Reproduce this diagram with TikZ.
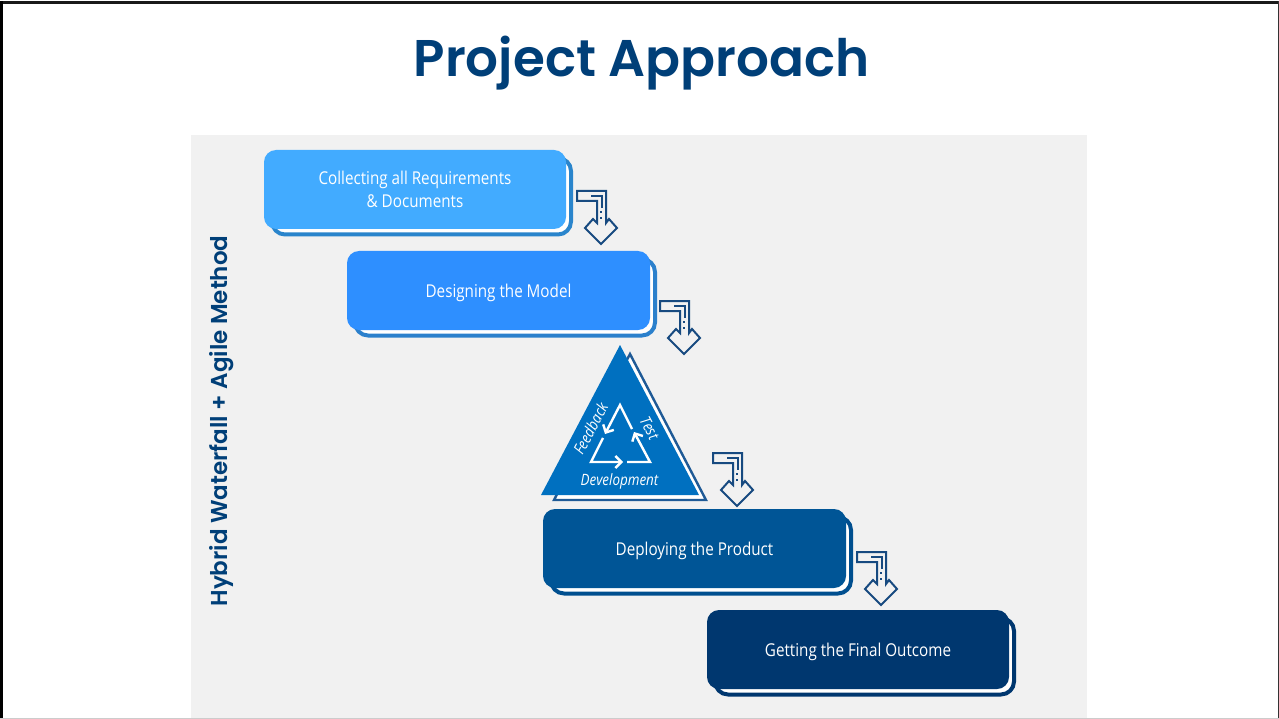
\documentclass[tikz,border=0pt]{standalone}
\usepackage{fontspec}
\setmainfont{Open Sans}[FakeStretch=0.86]
\newfontfamily\titlefont{Poppins SemiBold}
\usetikzlibrary{arrows.meta}
\definecolor{navy}{HTML}{003F78}
\definecolor{panel}{HTML}{F1F1F1}
\definecolor{iconblue}{HTML}{174A80}
\definecolor{bA}{HTML}{42ABFF}\definecolor{sA}{HTML}{2A85CC}
\definecolor{bB}{HTML}{2E8FFF}\definecolor{sB}{HTML}{2B80CC}
\definecolor{bC}{HTML}{005596}\definecolor{sC}{HTML}{004F8F}
\definecolor{bD}{HTML}{00376F}\definecolor{sD}{HTML}{00376F}
\definecolor{tri}{HTML}{0070C0}\definecolor{triS}{HTML}{1F5A96}
\tikzset{
  x=1pt,y=-1pt,
  stepshadow/.style={draw=#1,line width=4pt,fill=white,rounded corners=13pt},
  stepfill/.style={fill=#1,rounded corners=12pt},
  steptext/.style={text=white,font=\fontsize{17.7}{23}\selectfont,align=center},
  tritext/.style={text=white,font=\fontsize{15.6}{16}\selectfont\itshape},
  cycle/.style={draw=white,line width=2.4pt,line join=miter},
  cyclearrow/.style={cycle,-{Straight Barb[length=6pt,width=12pt,line width=2.4pt]}},
  stepicon/.pic={
    \draw[iconblue,line width=2pt,fill=panel,line join=miter]
      (0,0)--(29,0)--(29,32)--(32,28)--(40,37)--(24,53)--(8,37)--(16,28)--(20,32)--(20,10)--(0,10)--cycle;
    \draw[iconblue,line width=1.7pt] (14,5)--(25,5)--(25,17);
    \draw[iconblue,line width=1.8pt] (24,20)--(24,22) (24,26)--(24,28);
  }
}
\newcommand{\stepbox}[8]{% name, x0,y0,x1,y1, colour suffix, text shift, text
  \draw[stepshadow=s#6] (#2+8,#3+8) rectangle (#4+5,#5+5.5);
  \fill[stepfill=b#6] (#2,#3) rectangle (#4,#5);
  \node[steptext] (#1) at ({(#2+#4)/2},{(#3+#5)/2+#7}) {#8};
}
\begin{document}
\begin{tikzpicture}
\useasboundingbox (0,0) rectangle (1279,719);
\fill[white] (0,0) rectangle (1279,719);
\fill[panel] (191,135) rectangle (1087,719);
% slide frame
\fill[black!90] (0,1) rectangle (1279,4);
\fill[black] (0,1) rectangle (3,719);
\fill[black!80] (1278,1) rectangle (1279,719);
\fill[black!20] (0,717.5) rectangle (1279,719);
\node[text=navy,font=\titlefont\fontsize{51.6}{60}\selectfont,inner sep=0pt] (title) at (641.5,63) {Project Approach};
\node[text=navy,font=\titlefont\fontsize{23}{26}\selectfont,rotate=90,inner sep=0pt] (side) at (222,421) {Hybrid Waterfall + Agile Method};
\stepbox{s1}{264}{150}{566}{229}{A}{0}{Collecting all Requirements\\\& Documents}
\stepbox{s2}{347}{251}{650}{330}{B}{2.5}{Designing the Model}
\stepbox{s4}{543}{509}{846}{588}{C}{2.5}{Deploying the Product}
\stepbox{s5}{707}{610}{1009}{689}{D}{2.5}{Getting the Final Outcome}
% agile triangle
\draw[triS,line width=2.4pt,fill=white,line join=miter] (630,354)--(706,500)--(554,500)--cycle;
\fill[tri] (620,345)--(699,495)--(541,495)--cycle;
\draw[cyclearrow] (632,429)--(620,405)--(605,434);
\draw[cyclearrow] (603,438)--(591,462)--(623,462);
\draw[cyclearrow] (627,462)--(650,462)--(634,432);
\node[tritext,rotate=62,inner sep=0pt] (fb) at (590.5,428.5) {Feedback};
\node[tritext,rotate=-62,inner sep=0pt] (ts) at (649.5,428) {Test};
\node[tritext,inner sep=0pt] (dv) at (619.5,481) {Development};
\pic (i1) at (577,191) {stepicon};
\pic (i2) at (660,301) {stepicon};
\pic (i3) at (713,453) {stepicon};
\pic (i4) at (857,552) {stepicon};
\end{tikzpicture}
\end{document}
